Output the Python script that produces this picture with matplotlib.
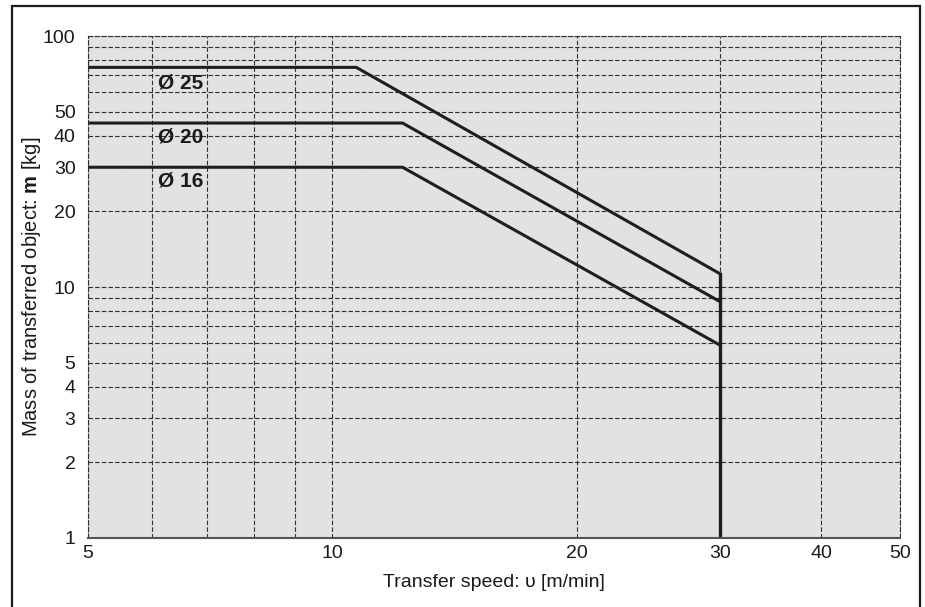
import matplotlib.pyplot as plt
from matplotlib.patches import Rectangle
from matplotlib.ticker import FixedLocator, NullFormatter, FixedFormatter

plt.rcParams['font.family'] = ['Liberation Sans', 'DejaVu Sans']
plt.rcParams['mathtext.fontset'] = 'custom'
plt.rcParams['mathtext.rm'] = 'Liberation Sans'
plt.rcParams['mathtext.bf'] = 'Liberation Sans:bold'

# curves (speed m/min, mass kg)
speed_25 = [5, 10.7, 30]
mass_25 = [75, 75, 11.3]
speed_20 = [5, 12.2, 30]
mass_20 = [45, 45, 8.75]
speed_16 = [5, 12.2, 30]
mass_16 = [30, 30, 5.87]
limit_speed = [30, 30]
limit_mass = [1, 11.3]

labels = ["Ø 25", "Ø 20", "Ø 16"]
label_x = [6.1, 6.1, 6.1]
label_y = [65, 39.5, 26.4]

x_major = [5, 10, 20, 30, 40, 50]
x_minor = [6, 7, 8, 9]
y_major = [1, 2, 3, 4, 5, 10, 20, 30, 40, 50, 100]
y_minor = [6, 7, 8, 9, 60, 70, 80, 90]

fig = plt.figure(figsize=(9.25, 6.07), dpi=100)
ax = fig.add_axes([88 / 925, 69 / 607, 812 / 925, 502 / 607])
ax.set_facecolor('#e1e2e4')
ax.set_xscale('log')
ax.set_yscale('log')
ax.set_xlim(5, 50)
ax.set_ylim(1, 100)

ax.xaxis.set_major_locator(FixedLocator(x_major))
ax.xaxis.set_major_formatter(FixedFormatter([str(v) for v in x_major]))
ax.xaxis.set_minor_locator(FixedLocator(x_minor))
ax.xaxis.set_minor_formatter(NullFormatter())
ax.yaxis.set_major_locator(FixedLocator(y_major))
ax.yaxis.set_major_formatter(FixedFormatter([str(v) for v in y_major]))
ax.yaxis.set_minor_locator(FixedLocator(y_minor))
ax.yaxis.set_minor_formatter(NullFormatter())

ax.grid(True, which='both', linestyle=(0, (4, 2)), color='#2e2e2e', linewidth=0.8)
ax.tick_params(which='both', length=0, labelsize=14, colors='#1a1a1a')
ax.tick_params(axis='y', pad=9)
ax.tick_params(axis='x', pad=5)
ax.set_axisbelow(True)

for side in ['left', 'top', 'right']:
    ax.spines[side].set_linestyle((0, (4, 2)))
    ax.spines[side].set_linewidth(0.8)
    ax.spines[side].set_color('#2e2e2e')
ax.spines['bottom'].set_color('#555555')
ax.spines['bottom'].set_linewidth(1.5)

for xs, ys in [(speed_25, mass_25), (speed_20, mass_20), (speed_16, mass_16)]:
    ax.plot(xs, ys, color='#1e1e1e', linewidth=2.2, solid_joinstyle='miter')
ax.plot(limit_speed, limit_mass, color='#1e1e1e', linewidth=2.4)

for t, x, y in zip(labels, label_x, label_y):
    ax.text(x, y, t, fontsize=15, fontweight='bold', color='#1a1a1a',
            ha='left', va='center')

ax.set_xlabel('Transfer speed: υ [m/min]', fontsize=14, color='#1a1a1a', labelpad=9)
ax.set_ylabel('Mass of transferred object: $\\mathbf{m}$ [kg]', fontsize=14.5,
              color='#1a1a1a')
ax.yaxis.set_label_coords(-0.056, 0.5)

fig.patches.append(Rectangle((12 / 925, -0.05), 908 / 925, 0.05 + 601 / 607,
                             transform=fig.transFigure, fill=False,
                             edgecolor='#1a1a1a', linewidth=1.6))

fig.savefig('out.png', dpi=100)
